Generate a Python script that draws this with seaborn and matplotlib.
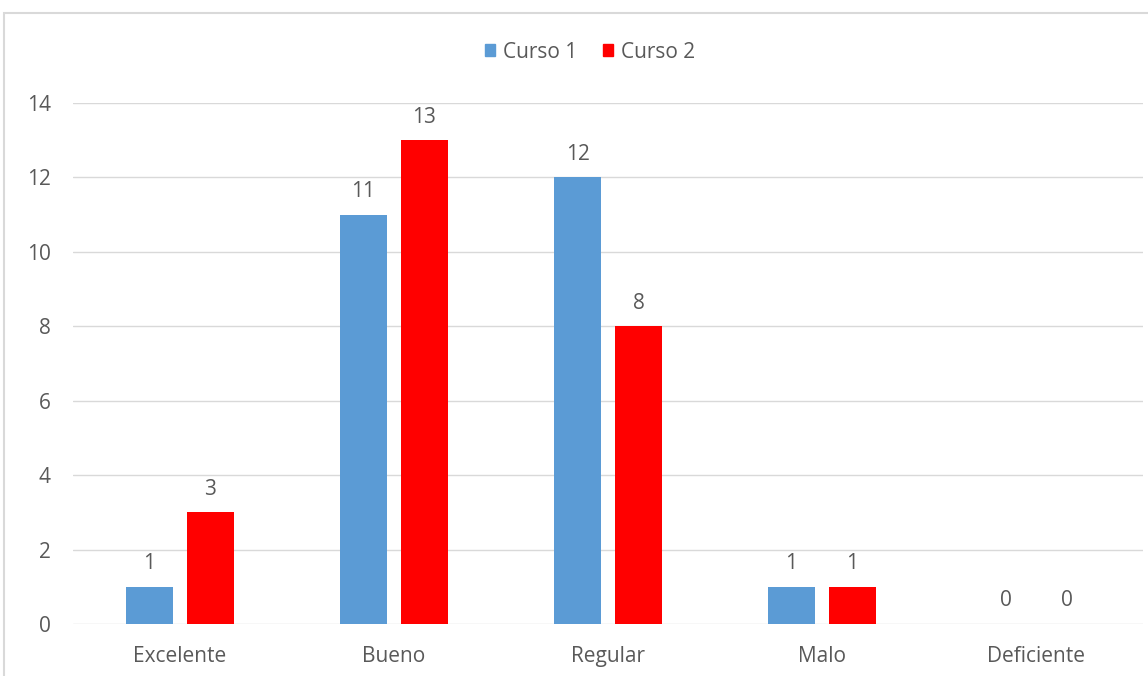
import pandas as pd
import seaborn as sns
import matplotlib.pyplot as plt
from matplotlib.patches import Rectangle

categorias = ["Excelente", "Bueno", "Regular", "Malo", "Deficiente"]
curso1 = [1, 11, 12, 1, 0]
curso2 = [3, 13, 8, 1, 0]
yticks = [0, 2, 4, 6, 8, 10, 12, 14]

df = pd.DataFrame({
    "categoria": categorias * 2,
    "valor": curso1 + curso2,
    "curso": ["Curso 1"] * len(categorias) + ["Curso 2"] * len(categorias),
})

sns.set_theme(style="white")
plt.rcParams["font.family"] = ["Open Sans", "DejaVu Sans"]
txt = "#595959"
grid = "#d9d9d9"
fs = 15

fig = plt.figure(figsize=(11.48, 6.76), dpi=100)
ax = fig.add_axes([73 / 1148, 1 - 624 / 676, 1070 / 1148, 521 / 676])

sns.barplot(data=df, x="categoria", y="valor", hue="curso",
            palette=["#5B9BD5", "#FF0000"], saturation=1,
            width=0.57, gap=0.23, linewidth=0,
            ax=ax, legend=False, zorder=3)

for c in ax.containers:
    ax.bar_label(c, padding=9, fontsize=fs, color=txt)

ax.set_ylim(0, 14)
ax.set_yticks(yticks)
ax.set_xlim(-0.5, len(categorias) - 0.5)
ax.grid(axis="y", color=grid, linewidth=1, zorder=0)
for s in ax.spines.values():
    s.set_visible(False)
ax.tick_params(axis="both", length=0, labelsize=fs, labelcolor=txt)
ax.tick_params(axis="y", pad=16)
ax.tick_params(axis="x", pad=16)
ax.set_xlabel("")
ax.set_ylabel("")

# marco del gráfico
fig.patches.append(Rectangle((4 / 1148, -0.05), 1.1, 1 - 13 / 676 + 0.05,
                             transform=fig.transFigure, fill=False,
                             edgecolor=grid, linewidth=1.5))

handles = [Rectangle((0, 0), 1, 1, color="#5B9BD5"),
           Rectangle((0, 0), 1, 1, color="#FF0000")]
fig.legend(handles, ["Curso 1", "Curso 2"], loc="center",
           bbox_to_anchor=(590 / 1148, 1 - 52 / 676), ncol=2, frameon=False,
           handlelength=0.5, handleheight=0.5, handletextpad=0.4,
           columnspacing=1.2, fontsize=fs, labelcolor=txt)

fig.savefig("out.png", dpi=100)
